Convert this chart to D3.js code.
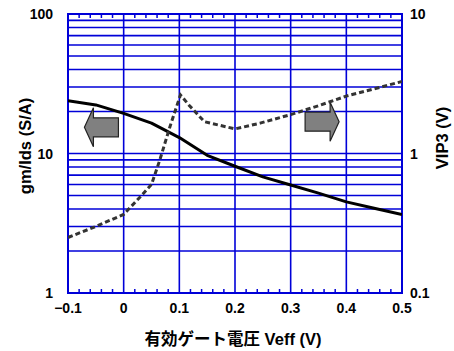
<!DOCTYPE html>
<html>
<head>
<meta charset="utf-8">
<script src="https://cdn.jsdelivr.net/npm/d3@7"></script>
<style>
  html, body { margin: 0; padding: 0; background: #fff; }
  svg { display: block; font-family: "Liberation Sans", Arial, sans-serif; }
</style>
</head>
<body>
<svg id="chart" width="454" height="351"></svg>
<script>
// Effective gate voltage (V)
const veffGm = [-0.1, -0.05, 0, 0.05, 0.1, 0.15, 0.2, 0.25, 0.3, 0.35, 0.4, 0.45, 0.5];
// gm/Ids (S/A), left axis
const gmIds  = [23.9, 22.3, 19.4, 16.5, 13.0, 9.7, 8.1, 6.8, 5.95, 5.2, 4.5, 4.05, 3.65];

const veffVip = [-0.1, -0.05, 0, 0.03, 0.05, 0.065, 0.083, 0.102, 0.117, 0.145, 0.2, 0.245, 0.3, 0.35, 0.4, 0.5];
// VIP3 (V), right axis
const vip3    = [0.25, 0.30, 0.366, 0.49, 0.60, 0.90, 1.55, 2.63, 2.23, 1.69, 1.50, 1.65, 1.90, 2.2, 2.58, 3.28];

const xTicks      = [-0.1, 0, 0.1, 0.2, 0.3, 0.4, 0.5];
const leftTicks   = [1, 10, 100];
const rightTicks  = [0.1, 1, 10];

const W = 454, H = 351;
const m = { left: 68, right: 402, top: 14, bottom: 293 };
const blue = "#0000d8";

const svg = d3.select("#chart");
svg.append("rect").attr("width", W).attr("height", H).attr("fill", "#fff");

const x  = d3.scaleLinear().domain([-0.1, 0.5]).range([m.left, m.right]);
const yL = d3.scaleLog().domain([1, 100]).range([m.bottom, m.top]);
const yR = d3.scaleLog().domain([0.1, 10]).range([m.bottom, m.top]);

// Horizontal grid at every log step of the left axis
const hGrid = [];
[1, 10].forEach(d => { for (let k = 1; k <= 9; k++) hGrid.push(d * k); });
svg.append("g").selectAll("line").data(hGrid.filter(v => v > 1 && v < 100)).join("line")
  .attr("x1", m.left).attr("x2", m.right)
  .attr("y1", d => yL(d)).attr("y2", d => yL(d))
  .attr("stroke", blue).attr("stroke-width", 1.6);

// Vertical grid at the labelled voltages
svg.append("g").selectAll("line").data(xTicks.slice(1, -1)).join("line")
  .attr("x1", d => x(d)).attr("x2", d => x(d))
  .attr("y1", m.top).attr("y2", m.bottom)
  .attr("stroke", blue).attr("stroke-width", 1.6);

// Minor ticks every 0.02 V, pointing inward from top and bottom
const minor = d3.range(-0.1, 0.5001, 0.02).filter(v => Math.abs(v * 10 - Math.round(v * 10)) > 1e-6);
const tg = svg.append("g");
tg.selectAll("line.b").data(minor).join("line").attr("class", "b")
  .attr("x1", d => x(d)).attr("x2", d => x(d))
  .attr("y1", m.bottom).attr("y2", m.bottom - 4)
  .attr("stroke", blue).attr("stroke-width", 1.5);
tg.selectAll("line.t").data(minor).join("line").attr("class", "t")
  .attr("x1", d => x(d)).attr("x2", d => x(d))
  .attr("y1", m.top).attr("y2", m.top + 4)
  .attr("stroke", blue).attr("stroke-width", 1.5);

// Frame
svg.append("rect")
  .attr("x", m.left).attr("y", m.top)
  .attr("width", m.right - m.left).attr("height", m.bottom - m.top)
  .attr("fill", "none").attr("stroke", blue).attr("stroke-width", 2);

// Direction arrows (placed in data units: tip voltage, value on its own axis)
function arrow(tipX, midVal, dir) {
  const tip = x(tipX), cy = dir < 0 ? yL(midVal) : yR(midVal);
  const head = 9, body = 25, bh = 9.5, hh = 19.5;
  const s = dir;
  const pts = [
    [tip, cy],
    [tip - s * head, cy - hh],
    [tip - s * head, cy - bh],
    [tip - s * (head + body), cy - bh],
    [tip - s * (head + body), cy + bh],
    [tip - s * head, cy + bh],
    [tip - s * head, cy + hh]
  ];
  svg.append("path")
    .attr("d", "M" + pts.map(p => p.join(",")).join("L") + "Z")
    .attr("fill", "#808080").attr("stroke", "#222").attr("stroke-width", 1.2)
    .attr("stroke-linejoin", "miter");
}
arrow(-0.0705, 15.4, -1);
arrow(0.387, 1.69, 1);

svg.append("clipPath").attr("id", "plotClip").append("rect")
  .attr("x", m.left).attr("y", m.top)
  .attr("width", m.right - m.left).attr("height", m.bottom - m.top);

// gm/Ids curve
const lineL = d3.line().x((d, i) => x(veffGm[i])).y(d => yL(d));
svg.append("path").datum(gmIds)
  .attr("d", lineL).attr("fill", "none")
  .attr("stroke", "#000").attr("stroke-width", 3)
  .attr("stroke-linejoin", "round")
  .attr("clip-path", "url(#plotClip)");

// VIP3 curve
const lineR = d3.line().x((d, i) => x(veffVip[i])).y(d => yR(d));
svg.append("path").datum(vip3)
  .attr("d", lineR).attr("fill", "none")
  .attr("stroke", "#333").attr("stroke-width", 3)
  .attr("stroke-dasharray", "5,3")
  .attr("clip-path", "url(#plotClip)");

// Tick labels
function style(sel) {
  return sel.attr("font-size", "14px").attr("font-weight", "bold").attr("fill", "#000");
}

style(svg.append("g").selectAll("text").data(xTicks).join("text")
  .attr("x", d => x(d)).attr("y", 313)
  .attr("text-anchor", "middle")
  .text(d => d === 0 ? "0" : d3.format(".1f")(d)));

style(svg.append("g").selectAll("text").data(leftTicks).join("text")
  .attr("x", 53).attr("y", d => yL(d) + 5)
  .attr("text-anchor", "end")
  .text(d => d));

style(svg.append("g").selectAll("text").data(rightTicks).join("text")
  .attr("x", 410).attr("y", d => yR(d) + 5)
  .attr("text-anchor", "start")
  .text(d => d));

// Axis titles
svg.append("text")
  .attr("transform", "translate(31,146) rotate(-90)")
  .attr("text-anchor", "middle")
  .attr("font-size", "16.5px").attr("font-weight", "bold")
  .text("gm/Ids (S/A)");

svg.append("text")
  .attr("transform", "translate(448,138) rotate(-90)")
  .attr("text-anchor", "middle")
  .attr("font-size", "16.5px").attr("font-weight", "bold")
  .text("VIP3 (V)");

const xt = svg.append("text")
  .attr("x", 233).attr("y", 345)
  .attr("text-anchor", "middle")
  .attr("font-size", "16.5px").attr("font-weight", "bold");
xt.append("tspan").attr("font-family", "'Noto Sans CJK JP', sans-serif").text("有効ゲート電圧");
xt.append("tspan").text(" Veff (V)");
</script>
</body>
</html>
